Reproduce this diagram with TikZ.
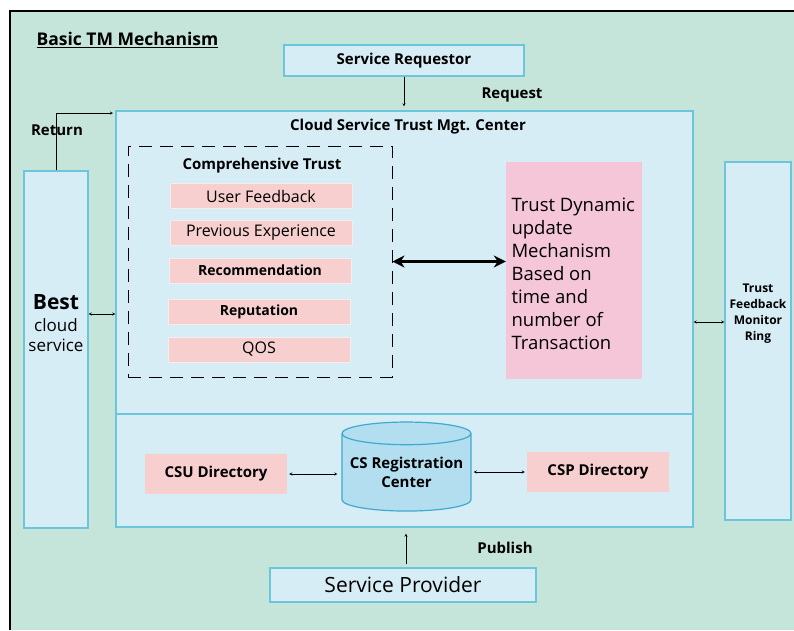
\documentclass[tikz,border=0pt]{standalone}
\usepackage{fontspec}
\setmainfont{Open Sans}
\usepackage{xcolor}
\usepackage{tikz}
\usetikzlibrary{calc,shapes.geometric,arrows.meta}

\definecolor{bggreen}{HTML}{C5E5DA}
\definecolor{boxblue}{HTML}{D6EDF6}
\definecolor{edgeblue}{HTML}{6CC5DB}
\definecolor{factorpink}{HTML}{F7CFCF}
\definecolor{dynpink}{HTML}{F5C6D8}
\definecolor{cylblue}{HTML}{B2DEF0}
\definecolor{cyledge}{HTML}{3FA9D0}

\newcommand{\fsz}[2]{\fontsize{#1}{#2}\selectfont}

\tikzset{
  bluebox/.style={draw=edgeblue, fill=boxblue, line width=1.2pt, inner sep=0pt},
  factor/.style={fill=factorpink, draw=factorpink!80!black!20, minimum width=182pt, minimum height=25pt, inner sep=0pt, font=\fsz{16}{18}},
  dirbox/.style={fill=factorpink, minimum width=142pt, minimum height=40pt, inner sep=0pt, font=\bfseries\fsz{15}{17}},
  lbl/.style={font=\bfseries\fsz{15}{17}}
}

\begin{document}
\begin{tikzpicture}[x=1pt,y=-1pt,>=stealth]

\useasboundingbox (0,0) rectangle (794,630);

% Background panel
\fill[bggreen] (10,11) rectangle (794,630);
\draw[line width=1.5pt] (10,630) -- (10,11) -- (794,11);

% Title
\node[anchor=west, font=\bfseries\fsz{17.5}{20}] (title) at (33,40) {\underline{Basic TM Mechanism}};

% Requestor and management center
\node[bluebox, minimum width=240pt, minimum height=31pt, font=\bfseries\fsz{15}{18}] (req) at (404,60.5) {Service Requestor};
\node[lbl] (reqlbl) at (512,95) {Request};
\node[bluebox, minimum width=577pt, minimum height=416pt] (mgt) at (404.5,319) {};
\draw[edgeblue, line width=1.2pt] (116,414) -- (693,414);
\node[font=\bfseries\fsz{15}{18}] (mgttitle) at (408,127) {Cloud Service Trust Mgt. Center};

% Comprehensive trust
\node[draw, dashed, dash pattern=on 13pt off 8pt, line width=1pt, minimum width=264pt, minimum height=231pt] (ctrust) at (260,261.5) {};
\node[font=\bfseries\fsz{15}{17}] (cttitle) at (262,166) {Comprehensive Trust};
\node[factor] (fb) at (261,196) {User Feedback};
\node[factor] (pe) at (261,232.5) {Previous Experience};
\node[factor, font=\bfseries\fsz{14}{16}] (rec) at (260,270.5) {Recommendation};
\node[factor, font=\bfseries\fsz{14}{16}] (rep) at (259,311.5) {Reputation};
\node[factor] (qos) at (259,349.5) {QOS};

% Dynamic update
\node[fill=dynpink, minimum width=136pt, minimum height=217pt, inner sep=0pt] (dyn) at (574,270.5) {};
\node[anchor=west, align=left, font=\fsz{18.5}{23}] (dyntext) at (508,274) {Trust Dynamic\\update\\Mechanism\\Based on\\time and\\number of\\Transaction};
\draw[{Stealth[length=12pt,width=12pt]}-{Stealth[length=12pt,width=12pt]}, line width=2.5pt] (ctrust.east) -- (dyn.west |- ctrust.east);

% Side boxes
\node[bluebox, minimum width=64pt, minimum height=357pt] (best) at (56,349.5) {};
\node[align=center, font=\fsz{17}{20}] (besttext) at (56,323) {{\bfseries\fsz{21}{24}Best}\\[2pt]cloud\\service};
\node[bluebox, minimum width=66pt, minimum height=358pt] (ring) at (758,341) {};
\node[align=center, font=\bfseries\fsz{12}{16}] (ringtext) at (758,314) {Trust\\Feedback\\Monitor\\Ring};

\coordinate (ret) at (113,113);
\draw[->] (best.north) |- (ret);
\node[lbl] (retlbl) at (57,130) {Return};
\draw[<->] ([yshift=35.5pt]best.east) -- ([yshift=35.5pt]best.east -| mgt.west);
\draw[<->] ([yshift=-3pt]mgt.east) -- ([yshift=-3pt]mgt.east -| ring.west);
\draw[->, shorten >=4pt] (req.south) -- (req.south |- mgt.north);

% Registration part
\node[dirbox] (csu) at (216,474) {CSU Directory};
\node[cylinder, shape border rotate=90, aspect=0.2, draw=cyledge, fill=cylblue, line width=1.2pt, minimum width=129pt, minimum height=89pt, inner sep=0pt, align=center, font=\bfseries\fsz{15}{19}] (csrc) at (406.5,472.5) {CS Registration\\Center};
\node[dirbox] (csp) at (598,472) {CSP Directory};
\draw[<->, shorten <=2pt, shorten >=4pt] (csu.east) -- (csrc.west |- csu.east);
\draw[<->, shorten <=2pt, shorten >=2pt] (csrc.east |- csp.west) -- (csp.west);

% Provider
\node[bluebox, minimum width=266pt, minimum height=34pt, font=\fsz{21}{23}] (prov) at (403,585) {Service Provider};
\node[lbl] (publbl) at (505,548) {Publish};
\draw[->, shorten <=3pt, shorten >=6pt] ([xshift=3pt]prov.north) -- ([xshift=3pt]prov.north |- mgt.south);

\end{tikzpicture}
\end{document}
